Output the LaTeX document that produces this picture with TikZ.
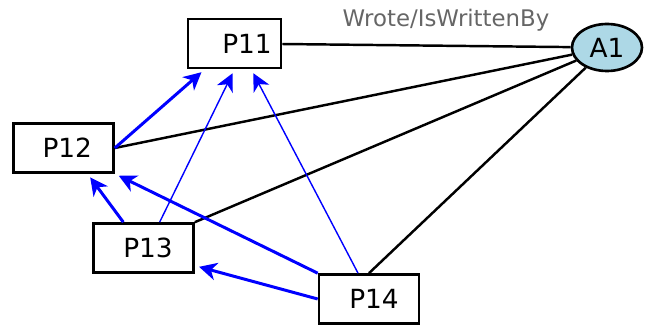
\documentclass[tikz,border=0pt]{standalone}
\usepackage{fontspec}
\setmainfont{DejaVu Sans}
\usetikzlibrary{arrows.meta,shapes.geometric}
\definecolor{nodeblue}{RGB}{173,216,230}

\begin{document}
\begin{tikzpicture}[
	paper/.style={draw,line width=1.5pt,minimum width=2.0cm,minimum height=0.98cm,inner sep=0pt,font=\fontsize{15}{18}\selectfont},
	author/.style={draw,ellipse,fill=nodeblue,line width=1.5pt,minimum width=1.4cm,minimum height=0.94cm,inner sep=0pt,font=\fontsize{15}{18}\selectfont},
	wrote/.style={line width=1.4pt},
	cites/.style={blue,line width=1.7pt,-{Stealth[length=10pt,width=10pt,inset=3pt]},shorten >=2.5pt},
	citesthin/.style={cites,line width=0.8pt}]
	\useasboundingbox (0,0) rectangle (13.04,6.58);

	\node[paper,minimum width=1.86cm] (p11) at (4.69,5.71) {\hspace*{0.5cm}P11};
	\node[paper] (p12) at (1.27,3.62) {\hspace*{0.15cm}P12};
	\node[paper] (p13) at (2.87,1.62) {\hspace*{0.18cm}P13};
	\node[paper] (p14) at (7.38,0.6) {\hspace*{0.2cm}P14};
	\node[author] (a1) at (12.14,5.63) {A1};
	\node[text=black!60,font=\fontsize{13}{15}\selectfont] (lbl) at (8.92,6.18) {Wrote/IsWrittenBy};

	\draw[wrote] (p11) -- (a1);
	\draw[wrote] (p12.east) -- (a1);
	\draw[wrote] (p13.north east) -- (a1);
	\draw[wrote] (p14.north) -- (a1);

	\draw[cites] (p12.east) -- (p11.221);
	\draw[citesthin] (p13.58) -- (p11.south);
	\draw[citesthin] (p14.113) -- (p11.303);
	\draw[cites] (p13.128) -- (p12.313);
	\draw[cites] (p14.north west) -- (p12.south east);
	\draw[cites] (p14.west) -- (p13.341);
\end{tikzpicture}
\end{document}
